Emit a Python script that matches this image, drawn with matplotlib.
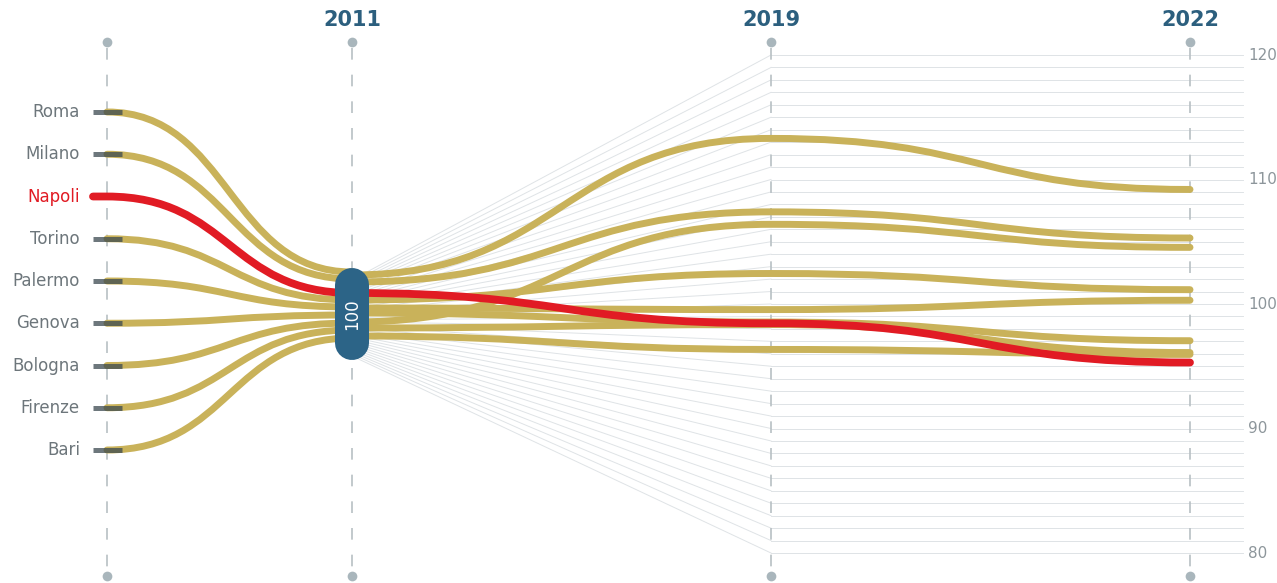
import matplotlib
matplotlib.use("Agg")
import matplotlib.pyplot as plt
from matplotlib.path import Path
from matplotlib.patches import PathPatch

# data: index numbers, 2011 = 100
cities = ["Roma", "Milano", "Napoli", "Torino", "Palermo",
          "Genova", "Bologna", "Firenze", "Bari"]
years = ["2011", "2019", "2022"]
index_2011 = [100, 100, 100, 100, 100, 100, 100, 100, 100]
index_2019 = [113.3, 107.4, 98.45, 102.45, 99.55, 98.55, 106.4, 98.35, 96.35]
index_2022 = [109.2, 105.3, 95.3, 101.15, 100.3, 97.05, 104.55, 96.1, 95.95]
axis_ticks = [80, 90, 100, 110, 120]
highlight = "Napoli"

# layout (pixels of the 1277x583 canvas)
W, H = 1277, 583
COL_X = [107, 352, 771, 1190]
PX = 12.45          # pixels per index point
Y100 = 304          # pixel row of index 100
SPREAD_IN = [-32, -25, -11, -4, 3, 11, 19, 26, 34]    # bundle at the 2011 pill, left side
SPREAD_OUT = [-29, -22, -11, -4, 4, 9, 18, 24, 32]    # bundle at the 2011 pill, right side

GOLD = "#c9b25a"
RED = "#e11b24"
BLUE = "#2c6487"
GREY_TXT = "#6d767b"
LIGHT = "#dfe3e6"


def yv(row):
    """pixel row -> index value"""
    return 100 + (Y100 - row) / PX


def bump(a, b):
    xm = (a[0] + b[0]) / 2
    return [(xm, a[1]), (xm, b[1]), b], [Path.CURVE4] * 3


fig = plt.figure(figsize=(W / 100, H / 100), dpi=100)
ax = fig.add_axes([0, 0, 1, 1])
ax.set_xlim(0, W)
ax.set_ylim(yv(H), yv(0))
ax.axis("off")

levels = range(axis_ticks[0], axis_ticks[-1] + 1)

# fan from the pill to 2019 and grid from 2019 to the right axis
for k in levels:
    start = yv(318) + (k - 100) * 1.9 / PX
    ax.plot([COL_X[1], COL_X[2]], [start, k], color=LIGHT, lw=0.7, zorder=1)
    ax.plot([COL_X[2], 1243], [k, k], color=LIGHT, lw=0.7, zorder=1)

for t in axis_ticks:
    ax.text(1248, t, str(t), ha="left", va="center", fontsize=11, color="#8d969b")

# vertical dashed guides
for x in COL_X:
    ax.plot([x, x], [yv(48), yv(572)], color="#b8c0c4", lw=1.2,
            dashes=(7, 9), zorder=2)
    ax.plot([x, x], [yv(42), yv(576)], "o", ms=7, color="#a9b6bc",
            mec="none", zorder=2)

for x, yr in zip(COL_X[1:], years):
    ax.text(x, yv(20), yr, ha="center", va="center", fontsize=15,
            fontweight="bold", color="#2c5f7e")

# city curves
for i, city in enumerate(cities):
    slot = yv(112 + i * 42.25)
    is_hl = city == highlight
    x0 = 93 if is_hl else COL_X[0]
    verts = [(x0, slot), (COL_X[0], slot)]
    codes = [Path.MOVETO, Path.LINETO]
    p_in = (COL_X[1], index_2011[i] - SPREAD_IN[i] / PX)
    p_out = (COL_X[1], index_2011[i] - SPREAD_OUT[i] / PX)
    v, c = bump(verts[-1], p_in)
    verts += v
    codes += c
    verts.append(p_out)
    codes.append(Path.LINETO)
    v, c = bump(p_out, (COL_X[2], index_2019[i]))
    verts += v
    codes += c
    v, c = bump(verts[-1], (COL_X[3], index_2022[i]))
    verts += v
    codes += c
    patch = PathPatch(Path(verts, codes), fill=False,
                      edgecolor=RED if is_hl else GOLD,
                      lw=5.6 if is_hl else 5.0, capstyle="round",
                      joinstyle="round", zorder=7 if is_hl else 4)
    ax.add_patch(patch)

    # stub at the left guide
    ax.plot([93, 122], [slot, slot], color="#3c4a50", alpha=0.75, lw=3.6,
            solid_capstyle="butt", zorder=6)
    ax.text(80, slot, city, ha="right", va="center", fontsize=12,
            color=RED if is_hl else GREY_TXT)

# 2011 pill
ax.plot([COL_X[1], COL_X[1]], [yv(285), yv(343)], color=BLUE, lw=24.5,
        solid_capstyle="round", zorder=8)
ax.text(COL_X[1], yv(314), f"{index_2011[0]:.0f}", rotation=90, ha="center",
        va="center", fontsize=12, color="white", zorder=9)

fig.savefig("out.png", dpi=100)
